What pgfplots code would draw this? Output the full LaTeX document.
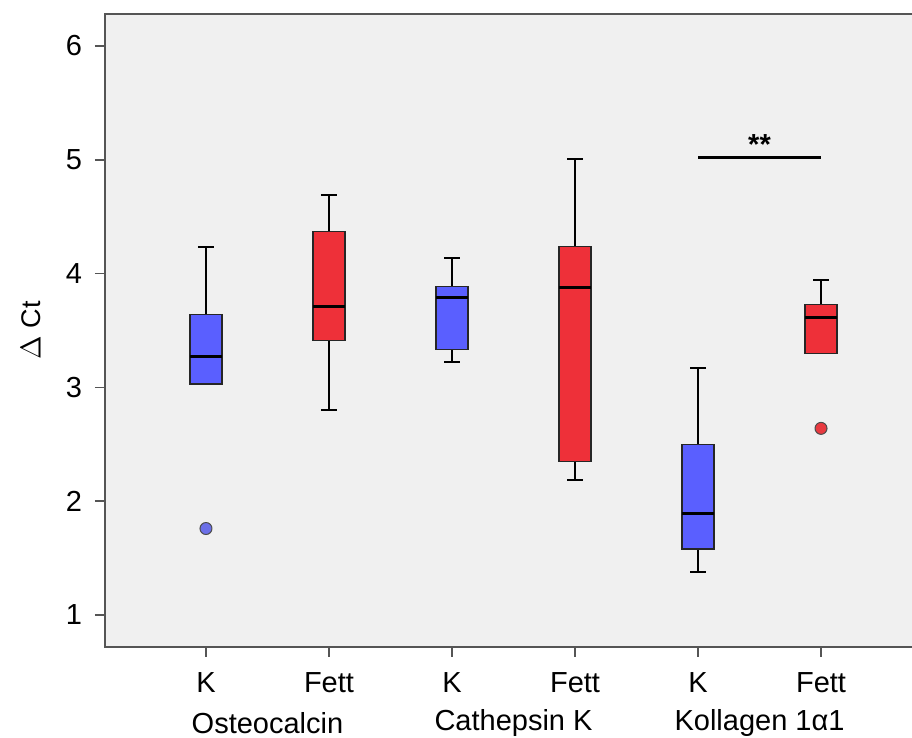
\documentclass[border=0pt]{standalone}
\usepackage{fontspec}
\setmainfont{Liberation Sans}
\usepackage{pgfplots}
\pgfplotsset{compat=1.18}
\usepgfplotslibrary{statistics}
\usetikzlibrary{calc}
\definecolor{bg}{RGB}{240,240,240}
\definecolor{bluebox}{RGB}{90,95,255}
\definecolor{redbox}{RGB}{238,48,57}
\definecolor{blueout}{RGB}{107,111,232}
\definecolor{redout}{RGB}{232,58,64}
\definecolor{axgray}{RGB}{85,85,85}
\begin{document}
\begin{tikzpicture}
\begin{axis}[
  name=ax,
  scale only axis,
  width=405pt, height=316.5pt,
  xmin=-0.821, xmax=5.764,
  ymin=0.719, ymax=6.281,
  axis background/.style={fill=bg},
  axis line style={axgray, line width=0.8pt},
  tick style={axgray, line width=0.8pt},
  tick align=outside,
  major tick length=5pt,
  xtick={0,1,2,3,4,5},
  xticklabels={K,Fett,K,Fett,K,Fett},
  ytick={1,2,3,4,5,6},
  xtick pos=bottom, ytick pos=left,
  ticklabel style={font=\fontsize{14.5}{16}\selectfont},
  /pgf/number format/assume math mode=true,
  yticklabel style={xshift=-3pt},
  xticklabel style={yshift=-4pt},
  every axis y label/.style={at={(rel axis cs:0,0.5)}, xshift=-37pt, rotate=90, anchor=center},
  ylabel={\fontsize{13.5}{15}\selectfont $\Delta$ Ct},
  clip=false,
  boxplot/draw direction=y,
  boxplot/box extend=0.26,
  boxplot/whisker extend=0.13,
  boxplot/every box/.style={draw=black!85, line width=0.6pt},
  boxplot/every whisker/.style={black, line width=1pt},
  boxplot/every median/.style={black, line width=1.5pt},
]
% Osteocalcin K
\addplot+[boxplot prepared={draw position=0, lower whisker=3.03, lower quartile=3.03, median=3.27, upper quartile=3.64, upper whisker=4.23},
  fill=bluebox, draw=black!85, solid, mark=*, mark size=3pt, mark options={fill=blueout, draw=black!70, line width=0.5pt}]
  table[row sep=\\, y index=0] {1.76\\};
% Osteocalcin Fett
\addplot+[boxplot prepared={draw position=1, lower whisker=2.80, lower quartile=3.41, median=3.71, upper quartile=4.37, upper whisker=4.69},
  fill=redbox, draw=black!85, solid, mark=none] coordinates {};
% Cathepsin K K
\addplot+[boxplot prepared={draw position=2, lower whisker=3.22, lower quartile=3.33, median=3.79, upper quartile=3.89, upper whisker=4.14},
  fill=bluebox, draw=black!85, solid, mark=none] coordinates {};
% Cathepsin K Fett
\addplot+[boxplot prepared={draw position=3, lower whisker=2.19, lower quartile=2.35, median=3.88, upper quartile=4.24, upper whisker=5.01},
  fill=redbox, draw=black!85, solid, mark=none] coordinates {};
% Kollagen K
\addplot+[boxplot prepared={draw position=4, lower whisker=1.38, lower quartile=1.58, median=1.89, upper quartile=2.50, upper whisker=3.17},
  fill=bluebox, draw=black!85, solid, mark=none] coordinates {};
% Kollagen Fett
\addplot+[boxplot prepared={draw position=5, lower whisker=3.30, lower quartile=3.30, median=3.61, upper quartile=3.73, upper whisker=3.94},
  fill=redbox, draw=black!85, solid, mark=*, mark size=3pt, mark options={fill=redout, draw=black!70, line width=0.5pt}]
  table[row sep=\\, y index=0] {2.64\\};
% significance bar
\addplot[black, line width=1.5pt, mark=none] coordinates {(4,5.02) (5,5.02)};
\node[font=\bfseries\fontsize{14.5}{16}\selectfont, anchor=base] at (axis cs:4.5,5.045) {**};
% group labels
\node[font=\fontsize{14.5}{16}\selectfont, anchor=center, yshift=-38pt] at (axis cs:0.5,0.719) {Osteocalcin};
\node[font=\fontsize{14.5}{16}\selectfont, anchor=center, yshift=-38pt] at (axis cs:2.5,0.719) {Cathepsin K};
\node[font=\fontsize{14.5}{16}\selectfont, anchor=center, yshift=-38pt] at (axis cs:4.5,0.719) {Kollagen 1α1};
\end{axis}
\pgfresetboundingbox
\path ($(ax.south west)+(-52.5pt,-45.5pt)$) rectangle ($(ax.north east)+(-1.5pt,7pt)$);
\end{tikzpicture}
\end{document}
